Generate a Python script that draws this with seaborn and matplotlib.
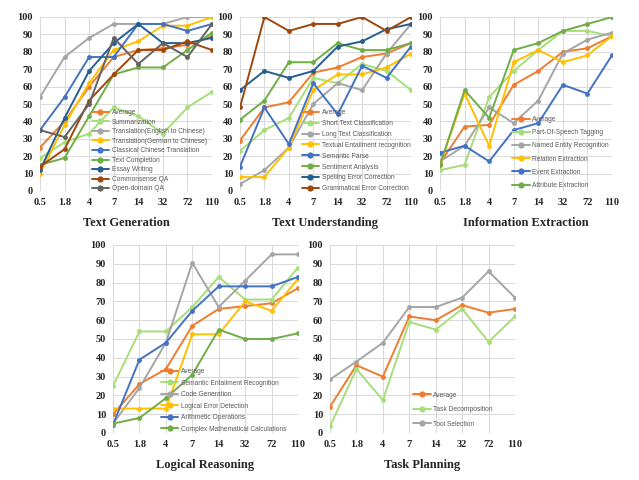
import numpy as np
import pandas as pd
import seaborn as sns
import matplotlib

matplotlib.use('Agg')
import matplotlib.pyplot as plt

# model sizes (x axis), shared by all panels
sizes = ['0.5', '1.8', '4', '7', '14', '32', '72', '110']

# Text Generation
gen_tasks = ['Average', 'Summarization', 'Translation(English to Chinese)',
             'Translation(German to Chinese)', 'Classical Chinese Translation',
             'Text Completion', 'Essay Writing', 'Commonsense QA', 'Open-domain QA']
gen_average = [25, 40, 60, 77, 81, 82, 84, 89]
gen_summarization = [19, 28, 33, 48, 43, 33, 48, 57]
gen_trans_en = [54, 77, 88, 96, 96, 96, 100, 100]
gen_trans_de = [10, 38, 62, 81, 86, 95, 95, 100]
gen_classical = [35, 54, 77, 77, 96, 96, 92, 96]
gen_completion = [15, 19, 43, 67, 71, 71, 81, 91]
gen_essay = [12, 42, 69, 85, 96, 85, 85, 88]
gen_commonsense = [14, 24, 52, 67, 81, 81, 86, 81]
gen_opendomain = [35, 31, 50, 88, 73, 85, 77, 96]

# Text Understanding
und_tasks = ['Average', 'Short Text Classification', 'Long Text Classification',
             'Textual Entailment recognition', 'Semantic Parse', 'Sentiment Analysis',
             'Spelling Error Correction', 'Grammatical Error Correction']
und_average = [29, 48, 51, 68, 71, 77, 79, 85]
und_short = [23, 35, 42, 65, 62, 73, 69, 58]
und_long = [4, 12, 25, 50, 62, 58, 79, 96]
und_entail = [8, 8, 25, 58, 67, 67, 71, 79]
und_parse = [14, 48, 27, 62, 44, 72, 65, 83]
und_sentiment = [41, 52, 74, 74, 85, 81, 81, 85]
und_spelling = [58, 69, 65, 69, 83, 86, 93, 96]
und_grammar = [48, 100, 92, 96, 96, 100, 92, 100]

# Information Extraction
ie_tasks = ['Average', 'Part-Of-Speech Tagging', 'Named Entity Recognition',
            'Relation Extraction', 'Event Extraction', 'Attribute Extraction']
ie_average = [16, 37, 38, 61, 69, 80, 82, 89]
ie_pos = [12, 15, 54, 69, 81, 92, 92, 89]
ie_ner = [17, 26, 48, 39, 52, 79, 87, 91]
ie_relation = [15, 56, 26, 74, 81, 74, 78, 89]
ie_event = [22, 26, 17, 35, 39, 61, 56, 78]
ie_attribute = [15, 58, 42, 81, 85, 92, 96, 100]

# Logical Reasoning
lr_tasks = ['Average', 'Semantic Entailment Recognition', 'Code Generation',
            'Logical Error Detection', 'Arithmetic Operations',
            'Complex Mathematical Calculations']
lr_average = [10, 26, 34, 57, 66, 67.5, 69, 77]
lr_entail = [25, 54, 54, 67, 83, 71, 71, 88]
lr_code = [5, 24, 48, 90.5, 67, 81, 95, 95]
lr_error = [13, 13, 13, 52.5, 52.5, 70, 65, 82]
lr_arith = [4.5, 39, 48, 65, 78, 78, 78, 83]
lr_complex = [5, 8, 18.5, 31, 55, 50, 50, 53]

# Task Planning
tp_tasks = ['Average', 'Task Decomposition', 'Tool Selection']
tp_average = [14, 36, 30, 62, 60, 68, 64, 66]
tp_decomp = [3.5, 34, 17.5, 59, 55, 66, 48.5, 62]
tp_tool = [28.5, 38, 48, 67, 67, 72, 86, 72]

ORANGE, LGREEN, GRAY, YELLOW = '#ED7D31', '#A6DE78', '#A5A5A5', '#FFC000'
BLUE, GREEN, DBLUE, BROWN, DGRAY = '#4472C4', '#70AD47', '#255E91', '#9E480E', '#636363'

# title, tasks, series, colours, axes box (px), legend anchor, legend row spacing
panels = [
    ('Text Generation', gen_tasks,
     [gen_average, gen_summarization, gen_trans_en, gen_trans_de, gen_classical,
      gen_completion, gen_essay, gen_commonsense, gen_opendomain],
     [ORANGE, LGREEN, GRAY, YELLOW, BLUE, GREEN, DBLUE, BROWN, DGRAY],
     [40, 17, 172, 174], (0.30, 0.47), 0.38),
    ('Text Understanding', und_tasks,
     [und_average, und_short, und_long, und_entail, und_parse, und_sentiment,
      und_spelling, und_grammar],
     [ORANGE, LGREEN, GRAY, YELLOW, BLUE, GREEN, DBLUE, BROWN],
     [240, 17, 171, 174], (0.36, 0.47), 0.58),
    ('Information Extraction', ie_tasks,
     [ie_average, ie_pos, ie_ner, ie_relation, ie_event, ie_attribute],
     [ORANGE, LGREEN, GRAY, YELLOW, BLUE, GREEN],
     [440, 17, 172, 174], (0.42, 0.43), 0.92),
    ('Logical Reasoning', lr_tasks,
     [lr_average, lr_entail, lr_code, lr_error, lr_arith, lr_complex],
     [ORANGE, LGREEN, GRAY, YELLOW, BLUE, GREEN],
     [113, 245, 185, 188], (0.26, 0.345), 0.68),
    ('Task Planning', tp_tasks,
     [tp_average, tp_decomp, tp_tool],
     [ORANGE, LGREEN, GRAY],
     [330, 245, 185, 188], (0.45, 0.22), 1.13),
]

sns.set_style('whitegrid')
plt.rcParams['font.family'] = ['Liberation Serif', 'DejaVu Serif']

W, H = 639, 480
fig = plt.figure(figsize=(W / 100, H / 100), dpi=100)

for title, tasks, series, colors, box, leg_anchor, spacing in panels:
    x0, y0, w, h = box
    ax = fig.add_axes([x0 / W, 1 - (y0 + h) / H, w / W, h / H])
    rows = []
    for task, vals in zip(tasks, series):
        for i, v in enumerate(vals):
            rows.append({'pos': i, 'score': v, 'task': task})
    df = pd.DataFrame(rows)
    sns.lineplot(data=df, x='pos', y='score', hue='task', hue_order=tasks,
                 palette=colors, marker='o', markersize=3.5, markeredgewidth=0,
                 linewidth=1.4, ax=ax)
    ax.set_xlim(0, 7)
    ax.set_ylim(0, 100)
    ax.set_xticks(range(8))
    ax.set_xticklabels(sizes)
    ax.set_yticks(range(0, 101, 10))
    ax.tick_params(axis='both', labelsize=7.5, pad=5, length=0)
    for lbl in ax.get_xticklabels() + ax.get_yticklabels():
        lbl.set_fontweight('bold')
    ax.set_xlabel(title, fontsize=9, fontweight='bold', labelpad=7)
    ax.set_ylabel('')
    ax.grid(True, color='#d9d9d9', linewidth=0.7)
    for s in ax.spines.values():
        s.set_visible(False)
    ax.set_facecolor('white')
    leg = ax.legend(loc='upper left', bbox_to_anchor=leg_anchor, frameon=False,
                    prop={'family': 'Liberation Sans', 'size': 4.8},
                    handlelength=2.6, handletextpad=0.4, labelspacing=spacing,
                    borderaxespad=0, borderpad=0)
    for t in leg.get_texts():
        t.set_color('#595959')
    for hnd in leg.legend_handles:
        hnd.set_markersize(4.5)

fig.savefig('out.png', dpi=100, facecolor='white')
